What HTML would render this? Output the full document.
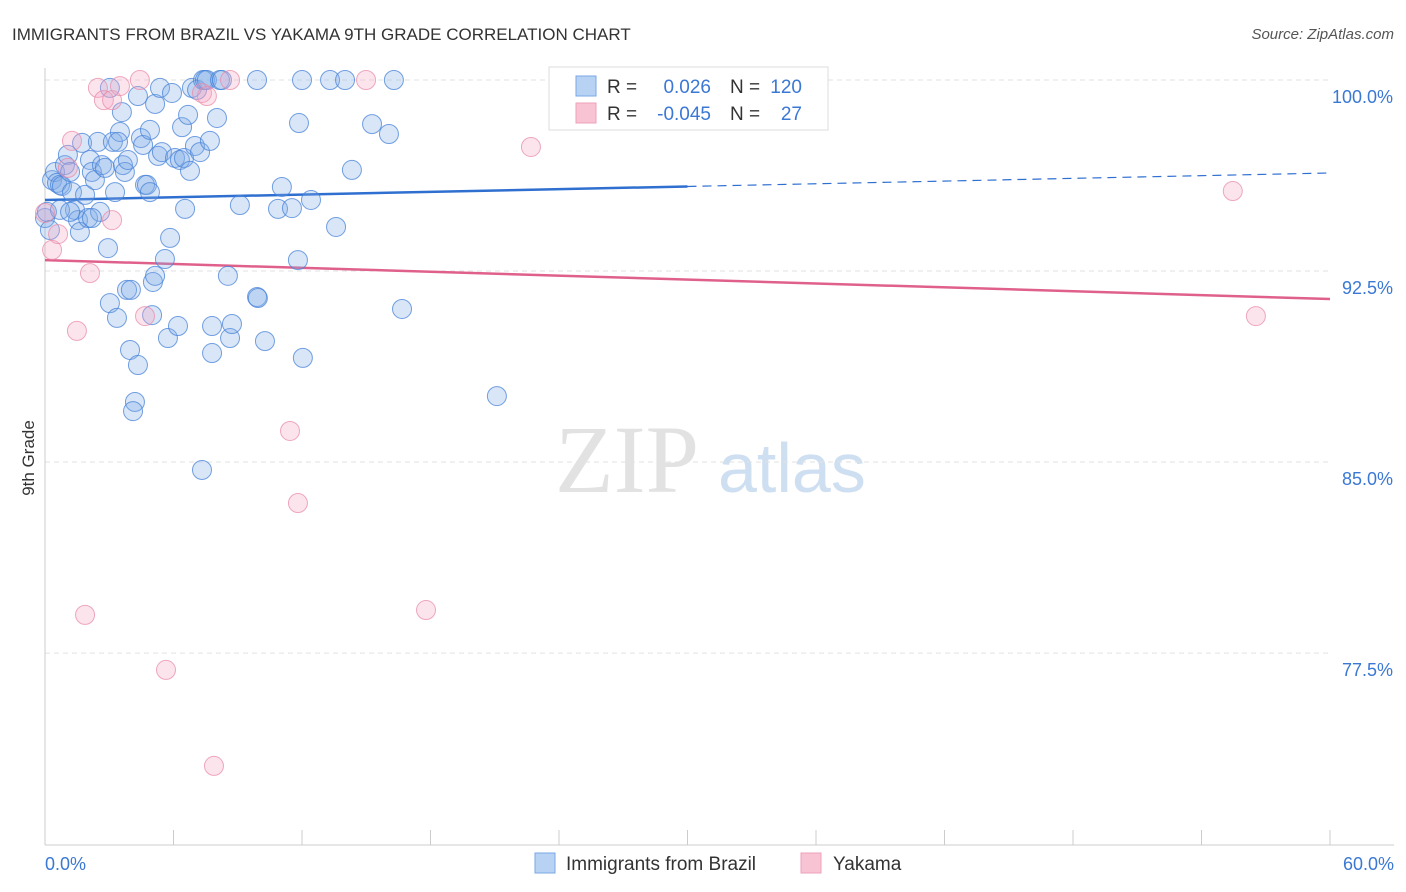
<!DOCTYPE html>
<html><head><meta charset="utf-8"><style>
body{margin:0;background:#fff;font-family:"Liberation Sans",sans-serif;}
svg{display:block}
</style></head><body>
<svg id="chart" width="1406" height="892">
<text x="12" y="40" font-size="17" fill="#333">IMMIGRANTS FROM BRAZIL VS YAKAMA 9TH GRADE CORRELATION CHART</text>
<text x="1394" y="39" font-size="15" fill="#555" font-style="italic" text-anchor="end">Source: ZipAtlas.com</text>
<g>
<text x="555" y="492" font-size="96" font-family="Liberation Serif,serif" fill="#e2e2e2">ZIP</text>
<text x="718" y="492" font-size="70" fill="#cfdff2">atlas</text>
</g>
<g id="grid"></g><g id="axes"></g><g id="lines"></g><g id="pts"></g>
<text x="34" y="458" font-size="17" fill="#333" transform="rotate(-90 34 458)" text-anchor="middle">9th Grade</text>
<g>
<rect x="549" y="67" width="279" height="63" fill="#fff" stroke="#ddd"/>
<rect x="576" y="76" width="20" height="20" fill="#b8d2f4" stroke="#7aa8e6"/>
<rect x="576" y="103" width="20" height="20" fill="#f8c4d4" stroke="#eea0b8"/>
<text x="607" y="93" font-size="19" fill="#333">R = </text><text x="711" y="93" font-size="19" fill="#3a78d4" text-anchor="end">0.026</text>
<text x="730" y="93" font-size="19" fill="#333">N = </text><text x="802" y="93" font-size="19" fill="#3a78d4" text-anchor="end">120</text>
<text x="607" y="120" font-size="19" fill="#333">R = </text><text x="711" y="120" font-size="19" fill="#3a78d4" text-anchor="end">-0.045</text>
<text x="730" y="120" font-size="19" fill="#333">N = </text><text x="802" y="120" font-size="19" fill="#3a78d4" text-anchor="end">27</text>
</g>
<g>
<rect x="535" y="853" width="20" height="20" fill="#b8d2f4" stroke="#7aa8e6"/>
<text x="566" y="870" font-size="19" fill="#333">Immigrants from Brazil</text>
<rect x="801" y="853" width="20" height="20" fill="#f8c4d4" stroke="#eea0b8"/>
<text x="833" y="870" font-size="19" fill="#333">Yakama</text>
</g>
</svg>
<script>
const bx=[0,0.09,0.23,0.33,0.47,0.56,0.7,0.79,0.93,1.07,1.17,1.26,1.4,1.54,1.63,1.73,1.87,2.01,2.1,2.19,2.33,2.47,2.57,2.66,2.8,2.94,3.03,3.17,3.27,3.36,3.5,3.59,3.64,3.73,3.83,3.87,3.97,4.2,4.11,4.34,4.34,4.48,4.58,4.67,4.76,4.9,4.9,5,5.04,5.14,5.14,5.28,5.37,5.46,5.6,5.74,5.84,5.93,6.07,6.21,6.3,6.4,6.49,6.54,6.68,6.77,6.86,7,7.1,7.24,7.38,7.47,7.56,7.7,7.8,7.8,8.03,8.17,8.26,8.54,8.64,8.73,9.1,9.9,9.9,9.94,10.27,11.06,10.88,11.53,11.86,11.81,12.04,12,12.42,13.31,13.59,14.01,15.27,14.33,16.06,16.29,16.67,21.1,7.33,4.01,3.03,3.41,0.7,1.17,2.19,27.22];
const by=[94.58,94.82,94.11,96.07,96.39,95.96,95.88,95.84,96.66,97.06,96.39,95.6,94.9,94.5,94.03,97.53,95.49,94.58,96.86,96.39,96.07,97.57,94.82,96.66,96.55,93.4,91.24,97.57,95.6,90.66,97.96,98.74,96.66,96.39,91.76,96.86,89.4,87.36,87,99.37,88.81,97.72,97.45,95.88,95.88,98.04,95.6,90.77,92.07,99.06,92.31,97.02,99.69,97.17,92.97,89.87,93.8,99.49,96.94,90.34,96.86,98.15,96.94,94.94,98.63,96.43,99.69,97.41,99.61,97.17,100,100,100,97.61,90.34,89.28,98.51,100,100,92.31,89.87,90.42,95.09,100,91.48,91.44,89.75,95.8,94.94,94.97,98.31,92.93,89.09,100,95.29,100,94.23,100,98.27,96.47,97.88,100,91.01,87.59,84.69,91.76,99.69,97.57,94.9,94.82,94.58,100];
const px=[0,0.33,0.61,1.07,1.26,1.49,1.87,2.1,2.47,2.75,3.13,3.13,3.5,4.43,4.67,5.65,7.33,7.56,7.89,8.64,11.44,11.81,14.99,17.79,22.69,55.46,56.54];
const py=[94.78,93.33,93.95,96.55,97.61,90.15,79,92.42,99.69,99.21,99.21,94.5,99.76,100,90.73,76.84,99.49,99.37,73.07,100,86.22,83.39,100,79.19,97.37,95.64,90.73];
const blueTrend=[95.29,96.35];
const pinkTrend=[92.93,91.40];
const yTicks=[100,92.5,85,77.5];
const yTickLabels=["100.0%","92.5%","85.0%","77.5%"];
const xTickLabels=["0.0%","60.0%"];
const X=v=>45+v*(1285/60), Y=v=>80+(100-v)*25.47;
const NS="http://www.w3.org/2000/svg";
function mk(tag,attrs,parent){const e=document.createElementNS(NS,tag);for(const k in attrs)e.setAttribute(k,attrs[k]);document.getElementById(parent).appendChild(e);return e;}
yTicks.forEach((t,i)=>{
 const g=mk('line',{x1:45,x2:1330,y1:Y(t),y2:Y(t),stroke:'#e2e2e2','stroke-dasharray':'5,4'},'grid');
 
 
 const l=mk('text',{x:1393,y:Y(t)+23,'font-size':18,fill:'#3a78d4','text-anchor':'end'},'grid');
 l.textContent=yTickLabels[i];
 
 
});
const ya=mk('line',{x1:45,x2:45,y1:68,y2:845,stroke:'#ccc'},'axes');


const xa=mk('line',{x1:45,x2:1394,y1:845,y2:845,stroke:'#ccc'},'axes');


for(let i=0;i<=10;i++){
 const t=mk('line',{x1:X(i*6),x2:X(i*6),y1:830,y2:845,stroke:'#ccc'},'axes');
 
 
}
const xl0=mk('text',{x:45,y:870,'font-size':18,fill:'#3a78d4'},'axes');
xl0.textContent=xTickLabels[0];


const xl1=mk('text',{x:1394,y:870,'font-size':18,fill:'#3a78d4','text-anchor':'end'},'axes');
xl1.textContent=xTickLabels[1];


const bm=v=>blueTrend[0]+(blueTrend[1]-blueTrend[0])*v/60;
const bl=mk('line',{x1:X(0),y1:Y(bm(0)),x2:X(30),y2:Y(bm(30)),stroke:'#2f6fd0','stroke-width':2.5},'lines');


const bd=mk('line',{x1:X(30),y1:Y(bm(30)),x2:X(60),y2:Y(bm(60)),stroke:'#2f6fd0','stroke-width':1.2,'stroke-dasharray':'9,6'},'lines');


const pl=mk('line',{x1:X(0),y1:Y(pinkTrend[0]),x2:X(60),y2:Y(pinkTrend[1]),stroke:'#e0608c','stroke-width':2.5},'lines');


bx.forEach((v,i)=>{
 const c=mk('circle',{cx:X(v),cy:Y(by[i]),r:9.5,fill:'rgba(130,172,232,0.3)',stroke:'rgba(70,130,215,0.75)','stroke-width':1},'pts');
 
 
});
px.forEach((v,i)=>{
 const c=mk('circle',{cx:X(v),cy:Y(py[i]),r:9.5,fill:'rgba(245,165,195,0.3)',stroke:'rgba(232,140,170,0.75)','stroke-width':1},'pts');
 
 
});
</script>
</body></html>
